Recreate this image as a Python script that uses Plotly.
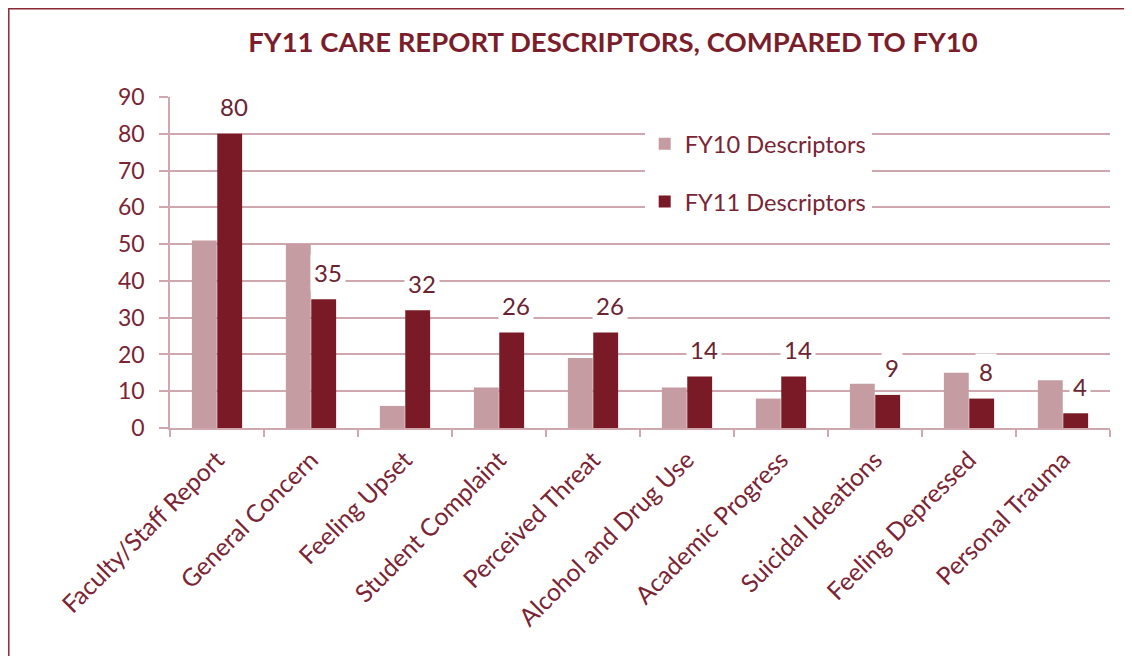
import plotly.graph_objects as go

categories = ["Faculty/Staff Report", "General Concern", "Feeling Upset", "Student Complaint",
              "Perceived Threat", "Alcohol and Drug Use", "Academic Progress",
              "Suicidal Ideations", "Feeling Depressed", "Personal Trauma"]
fy10 = [51, 50, 6, 11, 19, 11, 8, 12, 15, 13]
fy11 = [80, 35, 32, 26, 26, 14, 14, 9, 8, 4]
y_ticks = [0, 10, 20, 30, 40, 50, 60, 70, 80, 90]

FONT = "Lato"
TEXT = "#7a2434"
GRID = "#cfa7ae"
BARGAP = 0.46

# the page adds an 8px body margin; figure is sized so it fits the window
W, H = 1124, 648
L, T, R, B = 162, 89, 22, 228
PW, PH = W - L - R, H - T - B

fig = go.Figure()
fig.add_trace(go.Bar(x=categories, y=fy10, name="FY10 Descriptors",
                     marker=dict(color="#c49ca2", line=dict(width=0)), legendgroup="a"))
fig.add_trace(go.Bar(x=categories, y=fy11, name="FY11 Descriptors",
                     marker=dict(color="#7a1a26", line=dict(width=0)), legendgroup="b"))

offset = (1 - BARGAP) / 4
for i, v in enumerate(fy11):
    fig.add_annotation(x=i + offset, y=v, xref="x", yref="y", text=str(v),
                       showarrow=False, yanchor="middle", yshift=27, xshift=4,
                       bgcolor="white", borderpad=3,
                       font=dict(family=FONT, size=24, color="#6a2431"))

fig.update_layout(
    width=W, height=H,
    margin=dict(l=L, r=R, t=T, b=B, autoexpand=False),
    paper_bgcolor="white", plot_bgcolor="white",
    barmode="group", bargap=BARGAP, bargroupgap=0.02,
    title=dict(text="<b>FY11 CARE REPORT DESCRIPTORS, COMPARED TO FY10</b>",
               x=(613 - 8) / W, xanchor="center", y=1 - 34 / H, yanchor="middle",
               font=dict(family=FONT, size=27.5, color="#7a1e2c")),
    legend=dict(x=0.505, y=(420 - 114) / PH, xanchor="left", yanchor="top",
                bgcolor="white", tracegroupgap=24, itemsizing="constant",
                font=dict(family=FONT, size=23.6, color=TEXT)),
    font=dict(family=FONT, color=TEXT),
    showlegend=True,
)
fig.update_xaxes(type="category", showline=True, linecolor=GRID, linewidth=1.5,
                 ticks="outside", tickson="boundaries", ticklen=7, tickcolor=GRID,
                 tickwidth=1.5, tickangle=-45, ticklabelstandoff=6,
                 tickfont=dict(family=FONT, size=24.6, color=TEXT), showgrid=False)
fig.update_yaxes(range=[0, 90], tickvals=y_ticks, showline=True, linecolor=GRID,
                 linewidth=1.5, ticks="outside", ticklen=9, tickcolor=GRID, tickwidth=1.5,
                 showgrid=True, gridcolor=GRID, gridwidth=1.5, zeroline=False,
                 ticklabelstandoff=10,
                 tickfont=dict(family=FONT, size=23, color=TEXT))

# outer frame (top and left edges visible in reference)
fig.add_shape(type="rect", xref="paper", yref="paper",
              x0=(0.8 - L) / PW, x1=(W + 10 - L) / PW,
              y0=(T + PH - H - 10) / PH, y1=(T + PH - 0.8) / PH,
              line=dict(color="#8b2a36", width=1.5), fillcolor="rgba(0,0,0,0)", layer="below")

fig.write_html("out.html")
